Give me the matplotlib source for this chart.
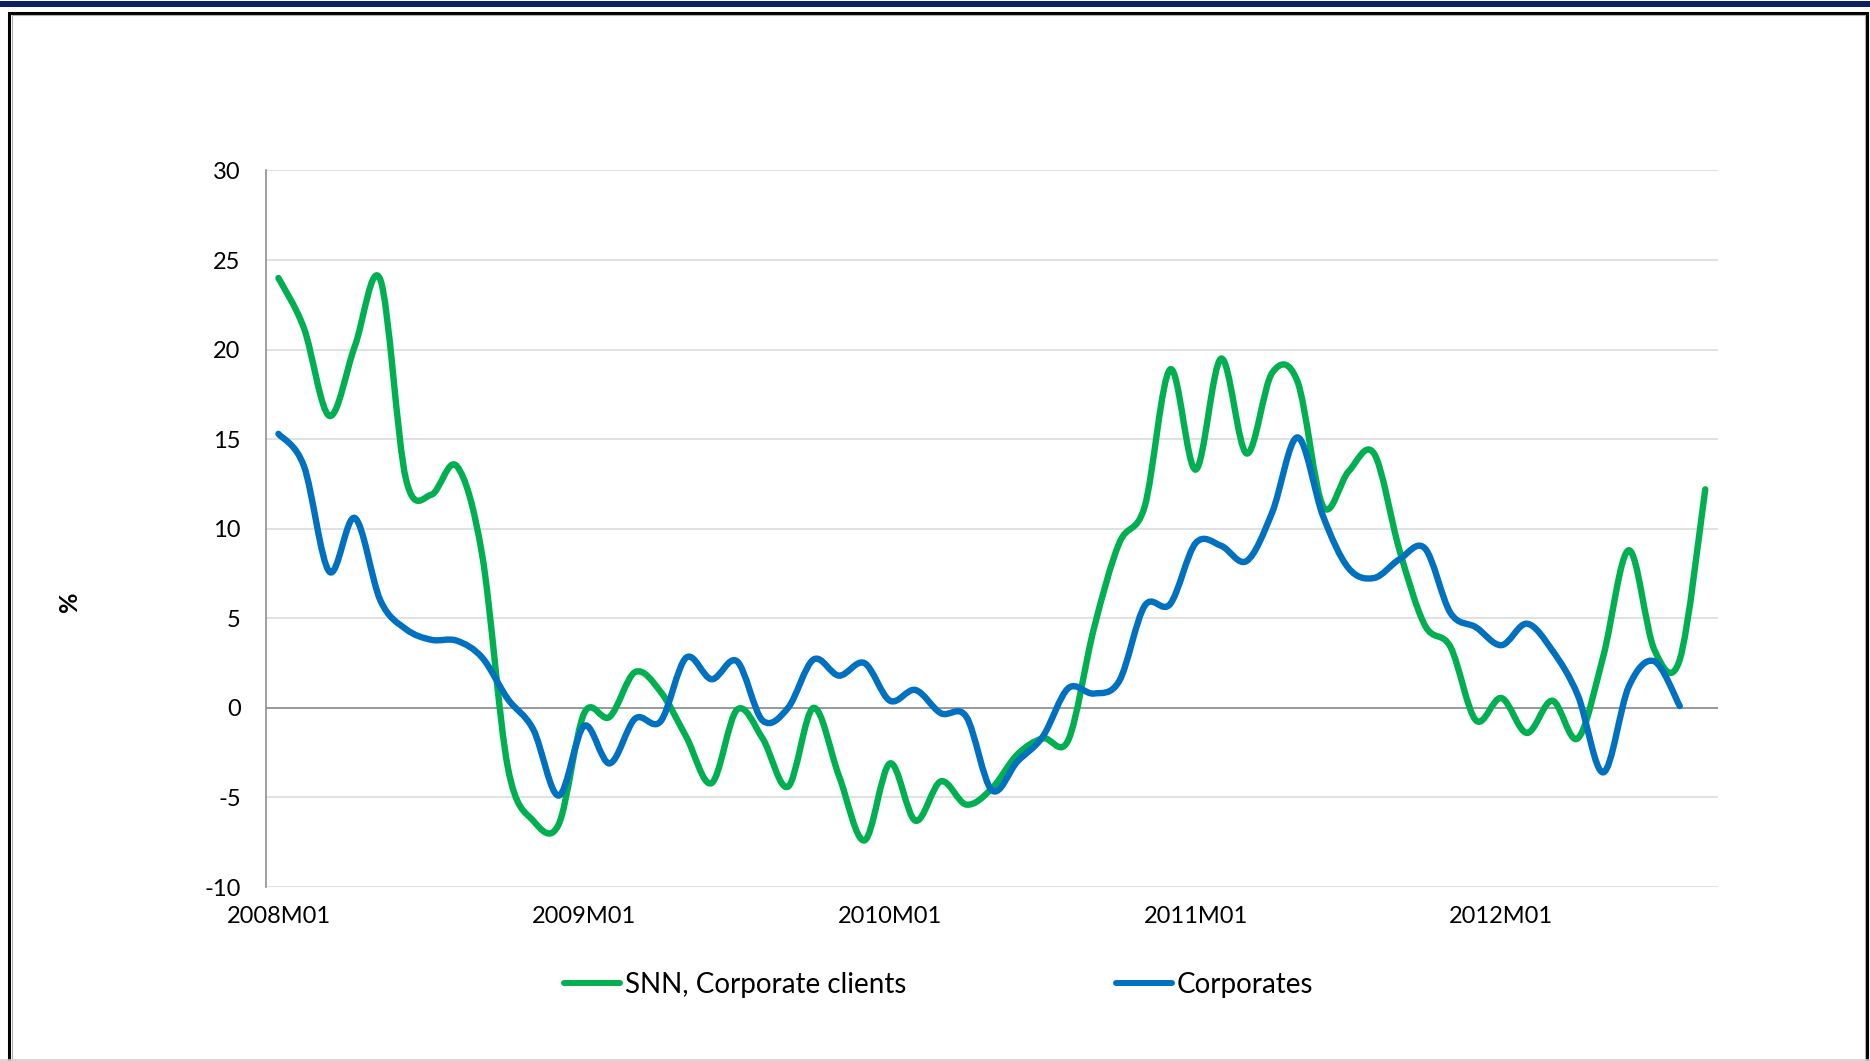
import numpy as np
import matplotlib
matplotlib.use("Agg")
import matplotlib.pyplot as plt
from matplotlib.path import Path
from matplotlib.patches import PathPatch, Rectangle
from matplotlib.lines import Line2D

plt.rcParams["axes.unicode_minus"] = False

W, H = 1870, 1061

# monthly growth rates, 2008M01 onwards
periods = [f"{y}M{m:02d}" for y in range(2008, 2013) for m in range(1, 13)][:57]
tick_labels = ["2008M01", "2009M01", "2010M01", "2011M01", "2012M01"]

snn_corporate = [24.0, 21.2, 16.3, 20.2, 23.9, 12.8, 11.9, 13.5, 8.5, -3.3,
                 -6.3, -6.5, -0.3, -0.5, 2.0, 0.9, -1.6, -4.2, -0.1, -1.7,
                 -4.4, 0.0, -3.8, -7.4, -3.1, -6.3, -4.1, -5.4, -4.5, -2.6,
                 -1.7, -1.8, 4.4, 9.2, 11.25, 18.9, 13.3, 19.5, 14.2, 18.7,
                 18.2, 11.25, 13.2, 14.2, 8.8, 4.6, 3.4, -0.7, 0.55, -1.4,
                 0.4, -1.7, 2.9, 8.8, 3.25, 2.7, 12.2]
corporates = [15.3, 13.5, 7.6, 10.6, 6.0, 4.4, 3.8, 3.75, 2.8, 0.5,
              -1.2, -4.9, -1.0, -3.1, -0.6, -0.75, 2.8, 1.6, 2.6, -0.7,
              0.0, 2.7, 1.8, 2.5, 0.4, 1.0, -0.3, -0.5, -4.6, -3.0,
              -1.6, 1.1, 0.8, 1.5, 5.7, 5.8, 9.2, 9.05, 8.2, 10.9,
              15.1, 10.7, 7.8, 7.25, 8.3, 8.9, 5.3, 4.5, 3.5, 4.7,
              3.2, 0.7, -3.6, 1.2, 2.6, 0.1]

GREEN = "#00B050"
BLUE = "#0070C0"
FONT = ["Lato", "DejaVu Sans"]


def smooth_path(ys, k=1 / 6):
    """Bezier path through the points, same idea as a 'smoothed line' in a spreadsheet."""
    pts = np.column_stack([np.arange(len(ys)), ys]).astype(float)
    n = len(pts)
    verts = [pts[0]]
    codes = [Path.MOVETO]
    for i in range(n - 1):
        p0 = pts[max(i - 1, 0)]
        p1 = pts[i]
        p2 = pts[i + 1]
        p3 = pts[min(i + 2, n - 1)]
        verts += [p1 + (p2 - p0) * k, p2 - (p3 - p1) * k, p2]
        codes += [Path.CURVE4] * 3
    return Path(verts, codes)


fig = plt.figure(figsize=(W / 100, H / 100), dpi=100)
fig.patch.set_facecolor("white")

ax = fig.add_axes([265.7 / W, 1 - 887 / H, (1718 - 265.7) / W, (887 - 170.5) / H])
ax.set_xlim(-0.5, len(periods) - 0.5)
ax.set_ylim(-10, 30)
ax.set_yticks(range(-10, 31, 5))
ax.set_xticks([periods.index(t) for t in tick_labels])
ax.set_xticklabels(tick_labels)
ax.yaxis.grid(True, color="#D9D9D9", lw=1.1)
ax.set_axisbelow(True)
for s in ["top", "right", "bottom"]:
    ax.spines[s].set_visible(False)
ax.spines["left"].set_color("#868686")
ax.spines["left"].set_linewidth(1.1)
ax.axhline(0, color="#868686", lw=1.1, zorder=1.5)
ax.tick_params(axis="both", length=0, labelsize=17)
ax.tick_params(axis="x", pad=14)
ax.tick_params(axis="y", pad=18)
for lab in ax.get_xticklabels() + ax.get_yticklabels():
    lab.set_family(FONT)

for ys, col in [(snn_corporate, GREEN), (corporates, BLUE)]:
    ax.add_patch(PathPatch(smooth_path(ys), transform=ax.transData, fill=False,
                           ec=col, lw=4.6, capstyle="round", joinstyle="round", zorder=3))

fig.text(69 / W, 1 - 602 / H, "%", rotation=90, fontsize=18, fontweight="bold",
         ha="center", va="center", family=FONT)

# legend, one entry each so the two columns sit where they should
for lab, col, x0 in [("SNN, Corporate clients", GREEN, 564), ("Corporates", BLUE, 1116)]:
    h = Line2D([], [], color=col, lw=4.3, solid_capstyle="round")
    fig.legend([h], [lab], loc="center left", bbox_to_anchor=(x0 / W, 1 - 985 / H),
               frameon=False, borderpad=0, borderaxespad=0, handlelength=2.0,
               handletextpad=0.2, prop={"family": FONT, "size": 20})

# page furniture: navy rule on top, black frame round the chart
fig.add_artist(Rectangle((0, 1 - 7 / H), 1, 6 / H, transform=fig.transFigure,
                         fc="#0B2162", ec="none"))
fig.add_artist(Rectangle((9 / W, -0.05), (1867 - 9) / W, 1.05 - 13 / H,
                         transform=fig.transFigure, fill=False, ec="black", lw=2.2))
fig.add_artist(Rectangle((11.5 / W, -0.05), (1864.5 - 11.5) / W, 1.05 - 15.5 / H,
                         transform=fig.transFigure, fill=False, ec="#B0B0B0", lw=0.8))
fig.add_artist(Line2D([0, 1], [0.6 / H, 0.6 / H], transform=fig.transFigure,
                      color="#D0D0D0", lw=1.2))

fig.savefig("out.png", dpi=100, facecolor="white")
